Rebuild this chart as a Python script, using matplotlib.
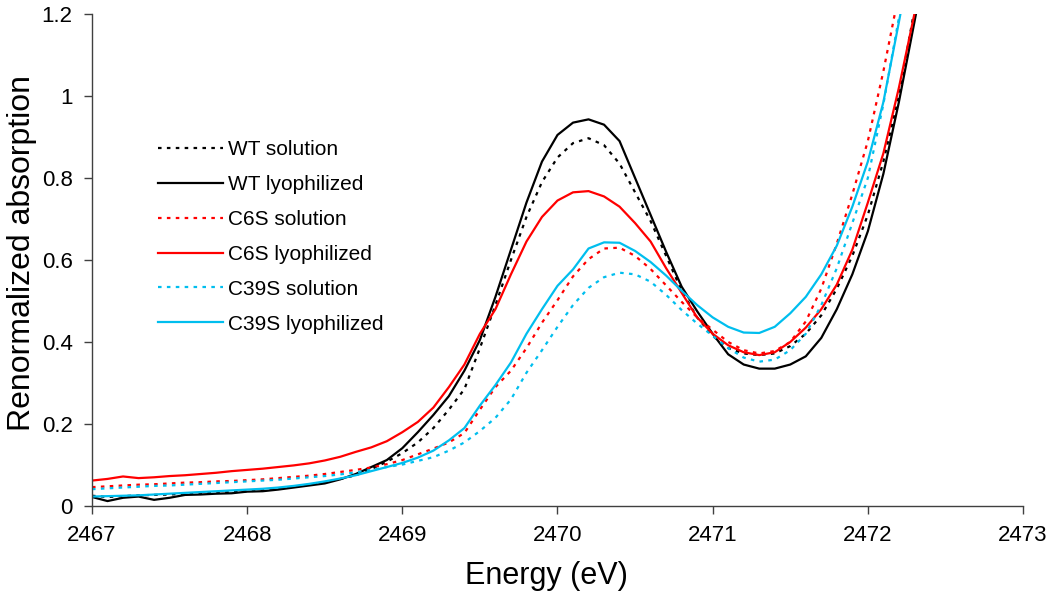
import matplotlib
matplotlib.use("Agg")
import matplotlib.pyplot as plt

plt.rcParams["font.family"] = ["Liberation Sans", "DejaVu Sans"]

# energy grid (eV)
energy = [2467.0, 2467.1, 2467.2, 2467.3, 2467.4, 2467.5, 2467.6, 2467.7, 2467.8, 2467.9,
          2468.0, 2468.1, 2468.2, 2468.3, 2468.4, 2468.5, 2468.6, 2468.7, 2468.8, 2468.9,
          2469.0, 2469.1, 2469.2, 2469.3, 2469.4, 2469.5, 2469.6, 2469.7, 2469.8, 2469.9,
          2470.0, 2470.1, 2470.2, 2470.3, 2470.4, 2470.5, 2470.6, 2470.7, 2470.8, 2470.9,
          2471.0, 2471.1, 2471.2, 2471.3, 2471.4, 2471.5, 2471.6, 2471.7, 2471.8, 2471.9,
          2472.0, 2472.1, 2472.2, 2472.3, 2472.4]

wt_solution = [0.025, 0.022, 0.024, 0.026, 0.027, 0.028, 0.030, 0.031, 0.032, 0.034,
               0.036, 0.038, 0.042, 0.047, 0.052, 0.058, 0.066, 0.075, 0.090, 0.108,
               0.129, 0.155, 0.190, 0.235, 0.285, 0.385, 0.490, 0.600, 0.705, 0.790,
               0.850, 0.885, 0.897, 0.880, 0.835, 0.765, 0.695, 0.610, 0.525, 0.460,
               0.415, 0.385, 0.372, 0.368, 0.372, 0.390, 0.420, 0.465, 0.530, 0.610,
               0.710, 0.840, 1.000, 1.210, 1.400]

wt_lyoph = [0.022, 0.012, 0.020, 0.023, 0.015, 0.020, 0.027, 0.028, 0.030, 0.031,
            0.035, 0.036, 0.040, 0.045, 0.050, 0.055, 0.065, 0.078, 0.095, 0.112,
            0.141, 0.180, 0.222, 0.268, 0.330, 0.405, 0.510, 0.625, 0.740, 0.840,
            0.905, 0.935, 0.943, 0.930, 0.890, 0.800, 0.710, 0.620, 0.535, 0.475,
            0.420, 0.370, 0.345, 0.335, 0.335, 0.345, 0.365, 0.410, 0.480, 0.565,
            0.670, 0.810, 0.985, 1.180, 1.380]

c6s_solution = [0.046, 0.048, 0.050, 0.052, 0.053, 0.055, 0.057, 0.058, 0.060, 0.061,
                0.063, 0.065, 0.068, 0.071, 0.074, 0.078, 0.083, 0.088, 0.094, 0.102,
                0.112, 0.126, 0.140, 0.155, 0.178, 0.235, 0.290, 0.330, 0.385, 0.447,
                0.502, 0.560, 0.602, 0.628, 0.630, 0.610, 0.578, 0.538, 0.498, 0.460,
                0.430, 0.400, 0.380, 0.372, 0.378, 0.400, 0.450, 0.530, 0.640, 0.760,
                0.890, 1.060, 1.250, 1.450, 1.650]

c6s_lyoph = [0.062, 0.066, 0.072, 0.068, 0.070, 0.073, 0.075, 0.078, 0.081, 0.085,
             0.088, 0.091, 0.095, 0.099, 0.104, 0.111, 0.120, 0.132, 0.143, 0.158,
             0.180, 0.205, 0.240, 0.290, 0.345, 0.420, 0.480, 0.565, 0.645, 0.705,
             0.745, 0.765, 0.768, 0.755, 0.730, 0.690, 0.645, 0.580, 0.520, 0.460,
             0.420, 0.392, 0.375, 0.368, 0.375, 0.400, 0.435, 0.480, 0.540, 0.625,
             0.740, 0.860, 1.020, 1.200, 1.390]

c39s_solution = [0.041, 0.043, 0.045, 0.047, 0.049, 0.050, 0.052, 0.054, 0.056, 0.058,
                 0.060, 0.062, 0.064, 0.067, 0.070, 0.073, 0.077, 0.082, 0.088, 0.095,
                 0.101, 0.110, 0.119, 0.135, 0.155, 0.183, 0.215, 0.260, 0.325, 0.380,
                 0.437, 0.490, 0.532, 0.558, 0.569, 0.565, 0.547, 0.515, 0.478, 0.445,
                 0.415, 0.385, 0.362, 0.352, 0.357, 0.380, 0.420, 0.490, 0.580, 0.690,
                 0.800, 0.980, 1.190, 1.400, 1.600]

c39s_lyoph = [0.023, 0.024, 0.025, 0.026, 0.028, 0.030, 0.032, 0.034, 0.036, 0.038,
              0.040, 0.042, 0.045, 0.049, 0.054, 0.060, 0.067, 0.075, 0.085, 0.095,
              0.105, 0.118, 0.135, 0.160, 0.190, 0.245, 0.295, 0.350, 0.420, 0.480,
              0.537, 0.577, 0.628, 0.643, 0.642, 0.622, 0.595, 0.562, 0.525, 0.490,
              0.460, 0.437, 0.423, 0.422, 0.437, 0.470, 0.510, 0.565, 0.635, 0.730,
              0.840, 0.985, 1.180, 1.380, 1.580]

x_ticks = [2467, 2468, 2469, 2470, 2471, 2472, 2473]
y_ticks = [0, 0.2, 0.4, 0.6, 0.8, 1.0, 1.2]
y_tick_labels = ["0", "0.2", "0.4", "0.6", "0.8", "1", "1.2"]

cyan = "#00BEEE"
dots = (0, (1.6, 2.4))

fig = plt.figure(figsize=(10.5, 5.95), dpi=100)
ax = fig.add_axes([0.0876, 0.1496, 0.8867, 0.8269])

ax.plot(energy, wt_solution, color="black", lw=1.6, ls=dots, label="WT solution")
ax.plot(energy, wt_lyoph, color="black", lw=1.6, label="WT lyophilized")
ax.plot(energy, c6s_solution, color="red", lw=1.6, ls=dots, label="C6S solution")
ax.plot(energy, c6s_lyoph, color="red", lw=1.6, label="C6S lyophilized")
ax.plot(energy, c39s_solution, color=cyan, lw=1.6, ls=dots, label="C39S solution")
ax.plot(energy, c39s_lyoph, color=cyan, lw=1.6, label="C39S lyophilized")

ax.set_xlim(2467, 2473)
ax.set_ylim(0, 1.2)
ax.set_xticks(x_ticks)
ax.set_xticklabels([str(t) for t in x_ticks])
ax.set_yticks(y_ticks)
ax.set_yticklabels(y_tick_labels)

for s in ["top", "right"]:
    ax.spines[s].set_visible(False)
for s in ["left", "bottom"]:
    ax.spines[s].set_color("#404040")
    ax.spines[s].set_linewidth(1.0)
ax.tick_params(direction="out", length=6, width=1.0, color="#404040",
               labelsize=16, pad=8)

ax.set_xlabel("Energy (eV)", fontsize=22)
ax.set_ylabel("Renormalized absorption", fontsize=23)
ax.xaxis.set_label_coords(0.488, -0.112)
ax.yaxis.set_label_coords(-0.059, 0.515)

ax.legend(loc="upper left", bbox_to_anchor=(0.071, 0.743), frameon=False,
          fontsize=15, handlelength=3.1, handletextpad=0.25, labelspacing=0.76,
          borderpad=0, borderaxespad=0)

fig.savefig("out.png", dpi=100)
